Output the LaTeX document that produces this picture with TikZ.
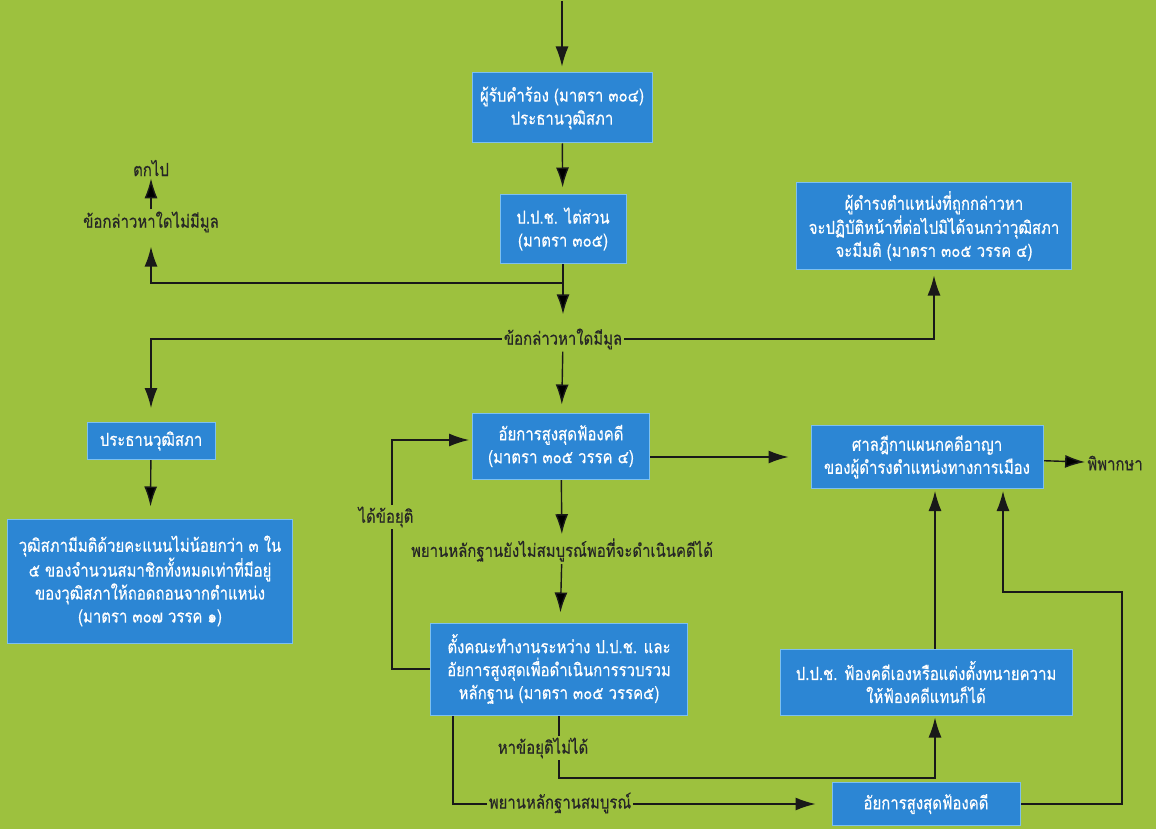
\documentclass[tikz,border=0pt]{standalone}
\usepackage{fontspec}
\newfontfamily\thaifont[Script=Thai, FakeStretch=0.83, FakeBold=0.4]{Loma}
\usetikzlibrary{arrows.meta,positioning}

\definecolor{bggreen}{RGB}{157,193,62}
\definecolor{boxblue}{RGB}{44,134,212}
\definecolor{boxrim}{RGB}{125,192,240}

\pgfdeclarelayer{back}
\pgfdeclarelayer{wires}
\pgfsetlayers{back,wires,main}

\begin{document}
\begin{tikzpicture}[x=1pt, y=-1pt, >={Latex[length=20pt,width=13pt]},
    font=\fontsize{18}{23}\selectfont\thaifont]
    \tikzstyle{blue box}=[draw=boxrim, line width=1pt, fill=boxblue, text=white, align=center, inner sep=2pt]
    \tikzstyle{note}=[fill=bggreen, text=black!85, inner sep=2pt]
    \tikzstyle{wire}=[line width=1.4pt, draw=black!90]

    \useasboundingbox (0,0) rectangle (1156,829);
    \begin{pgfonlayer}{back}
        \fill[bggreen] (0,0) rectangle (1156,829);
    \end{pgfonlayer}

    % boxes
    \node[blue box, minimum width=180, minimum height=70] (recv) at (562,108) {ผู้รับคำร้อง (มาตรา ๓๐๔)\\ประธานวุฒิสภา};
    \node[blue box, minimum width=126, minimum height=68] (nacc) at (563,229) {ป.ป.ช. ไต่สวน\\(มาตรา ๓๐๕)};
    \node[blue box, minimum width=275, minimum height=86] (hold) at (934,226) {ผู้ดำรงตำแหน่งที่ถูกกล่าวหา\\จะปฏิบัติหน้าที่ต่อไปมิได้จนกว่าวุฒิสภา\\จะมีมติ (มาตรา ๓๐๕ วรรค ๔)};
    \node[blue box, minimum width=128, minimum height=37] (prez) at (151,441) {ประธานวุฒิสภา};
    \node[blue box, minimum width=285, minimum height=124] (vote) at (150,581) {วุฒิสภามีมติด้วยคะแนนไม่น้อยกว่า ๓ ใน\\๕ ของจำนวนสมาชิกทั้งหมดเท่าที่มีอยู่\\ของวุฒิสภาให้ถอดถอนจากตำแหน่ง\\(มาตรา ๓๐๗ วรรค ๑)};
    \node[blue box, minimum width=177, minimum height=66] (ag1) at (561,446) {อัยการสูงสุดฟ้องคดี\\(มาตรา ๓๐๕ วรรค ๔)};
    \node[blue box, minimum width=232, minimum height=63] (court) at (927,457) {ศาลฎีกาแผนกคดีอาญา\\ของผู้ดำรงตำแหน่งทางการเมือง};
    \node[blue box, minimum width=257, minimum height=92] (team) at (559,669) {ตั้งคณะทำงานระหว่าง ป.ป.ช. และ\\อัยการสูงสุดเพื่อดำเนินการรวบรวม\\หลักฐาน (มาตรา ๓๐๕ วรรค๕)};
    \node[blue box, minimum width=292, minimum height=66] (nsue) at (926,682) {ป.ป.ช. ฟ้องคดีเองหรือแต่งตั้งทนายความ\\ให้ฟ้องคดีแทนก็ได้};
    \node[blue box, minimum width=188, minimum height=43] (ag2) at (926,804) {อัยการสูงสุดฟ้องคดี};

    % labels on the lines
    \node[note] (drop) at (151,168) {ตกไป};
    \node[note] (nobase) at (151,222) {ข้อกล่าวหาใดไม่มีมูล};
    \node[note] (base) at (563,339) {ข้อกล่าวหาใดมีมูล};
    \node[note] (short) at (562,550) {พยานหลักฐานยังไม่สมบูรณ์พอที่จะดำเนินคดีได้};
    \node[note] (agreed) at (386,517) {ได้ข้อยุติ};
    \node[note] (noagree) at (543,748) {หาข้อยุติไม่ได้};
    \node[note] (enough) at (560,803) {พยานหลักฐานสมบูรณ์};
    \node[note] (verdict) at (1115,463) {พิพากษา};

    \coordinate (topin) at (562,1);
    \coordinate (fork) at (563,283);
    \coordinate (loopx) at (392,0);
    \coordinate (turn) at (559,778);
    \coordinate (rtop) at (1122,592);
    \coordinate (ltop) at (1003,592);

    \begin{pgfonlayer}{wires}
    \draw[wire, ->, shorten >=6] (topin) -- (recv.north);
    \path[wire, ->]
        (recv)      edge [shorten >=7]      (nacc)
        (nacc)      edge [shorten >=12]     (base)
        (nobase)    edge                    (drop)
        (base)      edge [shorten >=8]      (ag1)
        (prez)      edge [shorten >=12]     (vote)
        (ag1)       edge [shorten >=2]      (short)
        (short)     edge [shorten >=10]     (team)
        (court)     edge                    (verdict)
        ;
    \draw[wire, ->, shorten >=12] (fork) -| (nobase.south);
    \draw[wire, ->, shorten >=14] (base.west) -| (prez.north);
    \draw[wire, ->, shorten >=6] (base.east) -| (hold.south);
    \draw[wire, ->, shorten >=22] (ag1.east |- court) -- (court.west);
    \draw[wire, ->, shorten >=3] (team.west) -- (team.west -| loopx) |- ([yshift=6]ag1.west);
    \draw[wire, ->, shorten >=2] (team.south) -- (turn) -| ([xshift=9]nsue.south);
    \draw[wire, ->, shorten >=16] ([xshift=-106]team.south) |- (ag2.west);
    \draw[wire, ->, shorten >=2] (ag2.east) -| (rtop) -- (ltop) -- (ltop |- court.south);
    \draw[wire, ->, shorten >=2] ([xshift=9]nsue.north) -- ([xshift=9]nsue.north |- court.south);
    \end{pgfonlayer}
\end{tikzpicture}
\end{document}
